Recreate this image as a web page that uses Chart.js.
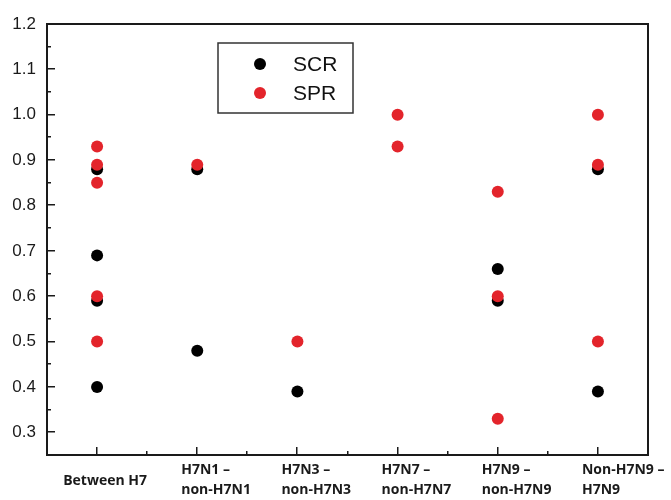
<!DOCTYPE html>
<html lang="en">
<head>
    <meta charset="UTF-8">
    <title>SCR / SPR</title>
    <script src="https://cdn.jsdelivr.net/npm/chart.js@4.4.1/dist/chart.umd.min.js"></script>
    <style>
        body {
            margin: 0;
            background-color: white;
        }
        .chart-container {
            position: relative;
            width: 671px;
            height: 500px;
        }
    </style>
</head>
<body>
    <div class="chart-container">
        <canvas id="rateChart"></canvas>
    </div>

    <script>
        // Categories (x axis), one multi-line label each
        const categories = [
            ['Between H7'],
            ['H7N1 \u2013', 'non-H7N1'],
            ['H7N3 \u2013', 'non-H7N3'],
            ['H7N7 \u2013', 'non-H7N7'],
            ['H7N9 \u2013', 'non-H7N9'],
            ['Non-H7N9 \u2013', 'H7N9']
        ];

        // Values, one list per category
        const scrValues = [
            [0.88, 0.69, 0.59, 0.40],
            [0.88, 0.48],
            [0.39],
            [],
            [0.66, 0.59],
            [0.88, 0.39]
        ];
        const sprValues = [
            [0.93, 0.89, 0.85, 0.60, 0.50],
            [0.89],
            [0.50],
            [1.00, 0.93],
            [0.83, 0.60, 0.33],
            [1.00, 0.89, 0.50]
        ];

        const yMin = 0.25;
        const yMax = 1.2;

        const seriesNames = ['SCR', 'SPR'];
        const seriesColors = ['#000000', '#e3242b'];

        function toPoints(lists) {
            const pts = [];
            lists.forEach((vals, i) => {
                vals.forEach(v => pts.push({ x: i, y: v }));
            });
            return pts;
        }

        // Frame, inward tick marks, category labels and legend box
        const framePlugin = {
            id: 'frame',
            afterDraw(chart) {
                const { ctx, scales } = chart;
                const xs = scales.x, ys = scales.y;
                const left = Math.round(xs.getPixelForValue(xs.min));
                const right = Math.round(xs.getPixelForValue(xs.max));
                const top = Math.round(ys.getPixelForValue(ys.max));
                const bottom = Math.round(ys.getPixelForValue(ys.min));
                ctx.save();

                ctx.fillStyle = '#1a1a1a';
                ctx.fillRect(left - 1, top - 1, right - left + 2, 2);
                ctx.fillRect(left - 1, bottom - 1, right - left + 2, 2);
                ctx.fillRect(left - 1, top - 1, 2, bottom - top + 2);
                ctx.fillRect(right - 1, top - 1, 2, bottom - top + 2);

                ys.ticks.forEach(t => {
                    if (t.value <= yMin + 1e-6 || t.value >= yMax - 1e-6) return;
                    const y = Math.round(ys.getPixelForValue(t.value));
                    const major = Math.round(t.value * 20) % 2 === 0;
                    ctx.fillRect(left, y - 1, major ? 8 : 4, 1.5);
                });
                xs.ticks.forEach(t => {
                    if (t.value <= xs.min + 1e-6 || t.value >= xs.max - 1e-6) return;
                    const x = Math.round(xs.getPixelForValue(t.value));
                    const major = Math.abs(t.value - Math.round(t.value)) < 1e-6;
                    const len = major ? 8 : 4;
                    ctx.fillRect(x - 1, bottom - len, 1.5, len);
                });

                // category labels under the axis
                ctx.font = 'bold 14px "Open Sans"';
                ctx.textBaseline = 'middle';
                categories.forEach((lines, i) => {
                    const px = xs.getPixelForValue(i);
                    if (lines.length === 1) {
                        ctx.textAlign = 'center';
                        ctx.fillText(lines[0], px + 8, bottom + 26);
                    } else {
                        ctx.textAlign = 'left';
                        lines.forEach((line, k) => {
                            ctx.fillText(line, px - 16, bottom + 15 + k * 20);
                        });
                    }
                });

                // legend box inside the plot
                const bx = left + 171, by = top + 19;
                ctx.strokeStyle = '#333';
                ctx.lineWidth = 1.5;
                ctx.strokeRect(bx, by, 135, 70);
                ctx.font = '21px "Liberation Sans", Arial, sans-serif';
                ctx.textAlign = 'left';
                seriesNames.forEach((name, k) => {
                    const cy = by + 21 + k * 29;
                    ctx.fillStyle = seriesColors[k];
                    ctx.beginPath();
                    ctx.arc(bx + 42, cy, 6, 0, Math.PI * 2);
                    ctx.fill();
                    ctx.fillStyle = '#111';
                    ctx.fillText(name, bx + 75, cy + 1);
                });
                ctx.restore();
            }
        };

        const ctx = document.getElementById('rateChart').getContext('2d');
        new Chart(ctx, {
            type: 'scatter',
            data: {
                datasets: [
                    {
                        label: seriesNames[0],
                        data: toPoints(scrValues),
                        backgroundColor: seriesColors[0],
                        borderWidth: 0,
                        pointRadius: 6,
                        order: 2
                    },
                    {
                        label: seriesNames[1],
                        data: toPoints(sprValues),
                        backgroundColor: seriesColors[1],
                        borderWidth: 0,
                        pointRadius: 6,
                        order: 1
                    }
                ]
            },
            options: {
                responsive: true,
                maintainAspectRatio: false,
                animation: false,
                layout: {
                    padding: { top: 24, right: 23, left: 0, bottom: 0 }
                },
                scales: {
                    x: {
                        type: 'linear',
                        min: -0.5,
                        max: categories.length - 0.5,
                        ticks: { display: false, stepSize: 0.5 },
                        grid: { display: false, drawTicks: false },
                        border: { display: false },
                        afterFit: s => { s.height = 45; }
                    },
                    y: {
                        min: yMin,
                        max: yMax,
                        ticks: {
                            stepSize: 0.05,
                            autoSkip: false,
                            padding: 11,
                            color: '#1a1a1a',
                            font: { family: '"Liberation Sans", Arial, sans-serif', size: 17 },
                            callback: v => {
                                const n = Math.round(v * 20);
                                return (n % 2 === 0 && v > yMin + 1e-6) ? (n / 20).toFixed(1) : '';
                            }
                        },
                        grid: { display: false, drawTicks: false },
                        border: { display: false },
                        afterFit: s => { s.width = 47; }
                    }
                },
                plugins: {
                    legend: { display: false },
                    tooltip: { enabled: false }
                }
            },
            plugins: [framePlugin]
        });
    </script>
</body>
</html>
